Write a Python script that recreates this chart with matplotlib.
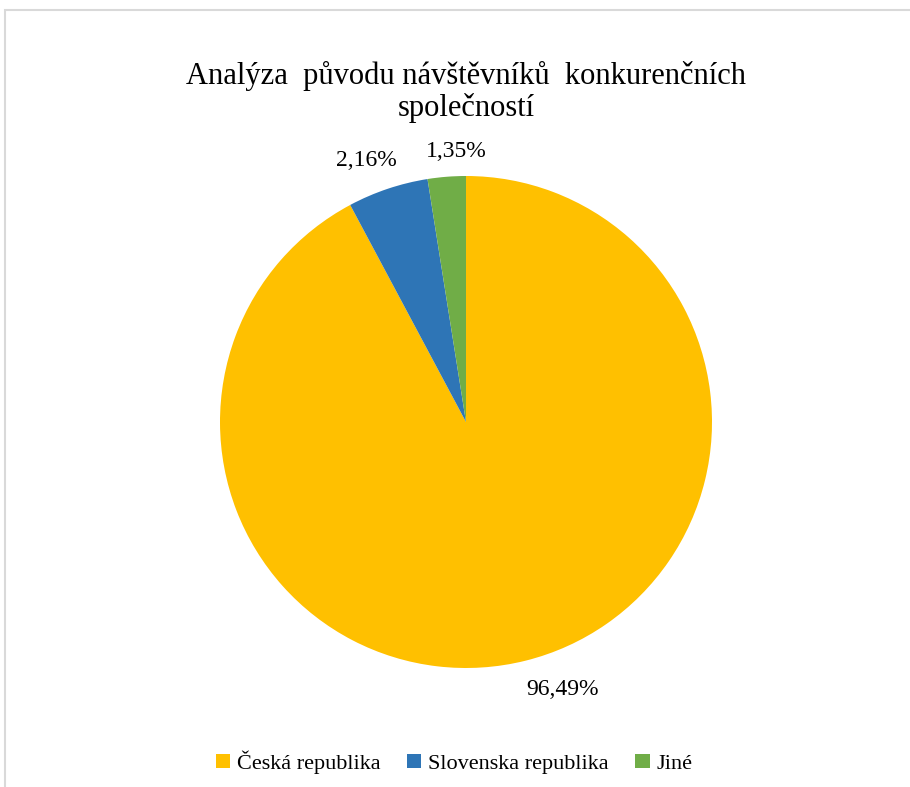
import matplotlib.pyplot as plt
from matplotlib.patches import Rectangle

plt.rcParams['font.family'] = ['Liberation Serif', 'DejaVu Serif']

kategorie = ['Česká republika', 'Slovenska republika', 'Jiné']
podily = [92.2, 5.3, 2.5]
popisky = ['96,49%', '2,16%', '1,35%']
barvy = ['#FFC000', '#2E75B6', '#70AD47']
# umisteni popisku (v polomerech kolacu)
pozice_popisku = [(0.394, -1.089), (-0.407, 1.061), (-0.04, 1.098)]

fig = plt.figure(figsize=(9.1, 7.87), dpi=100)
fig.patches.append(Rectangle((5 / 910, -0.05), 1.1, (787 - 10) / 787 + 0.05,
                             transform=fig.transFigure, fill=False,
                             edgecolor='#d9d9d9', linewidth=1.5))

ax = fig.add_axes([220 / 910, 119 / 787, 492 / 910, 492 / 787])
wedges, texty = ax.pie(podily, colors=barvy, startangle=90, counterclock=False,
                       labels=popisky, textprops={'fontsize': 17})
for t, (x, y) in zip(texty, pozice_popisku):
    t.set_position((x, y))
    t.set_ha('center')
    t.set_va('center')
ax.set_xlim(-1, 1)
ax.set_ylim(-1, 1)

fig.text(466 / 910, 1 - 92 / 787, 'Analýza  původu návštěvníků  konkurenčních\nspolečností',
         ha='center', va='center', fontsize=22, linespacing=1.1)

fig.legend(wedges, kategorie, loc='center', bbox_to_anchor=(454 / 910, 25 / 787),
           ncol=3, frameon=False, fontsize=16, handlelength=0.65, handleheight=0.65,
           handletextpad=0.3, columnspacing=1.2)

fig.savefig('out.png', dpi=100)
